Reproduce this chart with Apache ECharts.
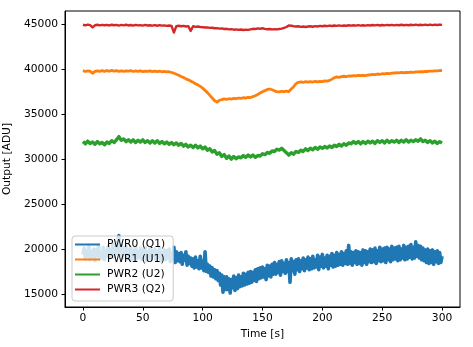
<!DOCTYPE html>
<html>
<head>
<meta charset="utf-8">
<script src="https://cdn.jsdelivr.net/npm/echarts@6/dist/echarts.min.js"></script>
<style>html,body{margin:0;padding:0;background:#fff;}#c{width:473px;height:347px;}</style>
</head>
<body>
<div id="c"></div>
<script>
// ---- data ----
const seriesNames = ['PWR0 (Q1)', 'PWR1 (U1)', 'PWR2 (U2)', 'PWR3 (Q2)'];
const xTicks = [0, 50, 100, 150, 200, 250, 300];
const yTicks = [15000, 20000, 25000, 30000, 35000, 40000, 45000];

// PWR0 sampled every 1 s from t = 0 to 300
const pwr0Start = 0, pwr0Step = 1;
const pwr0 = [
19400,20100,18900,19800,19200,20300,18800,19700,19100,20000,
18700,19900,19300,20400,18900,19600,19000,20200,18800,19800,
19200,20300,19000,19900,19400,20500,19100,20200,19500,20600,
21500,19300,20400,19000,20100,19400,20300,18900,19900,19200,
20200,18800,19800,19300,20300,18900,19700,19100,20100,18800,
19900,19200,20200,18700,19600,19000,20100,18900,19800,19300,
20000,18800,19700,19100,20100,18700,19600,19000,19900,18800,
19800,19000,20000,18600,19500,18900,20200,18500,19700,18700,
19500,18600,19600,18300,19300,18800,19700,18200,19200,18400,
19000,18100,18900,17900,19100,18000,18700,17800,19200,17900,
18600,17600,19700,17500,18300,17400,18100,17000,17900,16900,
17700,16700,17600,16500,17300,16000,17100,15200,16900,15500,
16900,15500,16700,15100,16600,15700,17000,15400,16800,15600,
17100,15800,16900,15900,17300,16000,17200,16100,17400,16200,
17500,16300,17400,16500,17700,16400,17800,16700,17900,16800,
18000,16900,17800,16600,18200,17000,18100,16900,18300,17200,
18500,17200,18300,17400,18600,17100,18700,17500,18400,17300,
18800,17500,18500,16300,18900,17600,18600,17200,18800,17700,
18900,17500,18700,17800,19000,17600,18800,17900,19100,17700,
18900,17800,19200,17900,18800,18000,19300,17700,19100,18100,
19400,17900,19000,18100,19300,17800,19200,18200,19500,18000,
19300,18100,19600,18200,19400,18300,19700,18200,19500,18400,
19800,18300,20400,18400,19700,18200,19600,18500,19800,18300,
19700,18400,19600,18200,19900,18500,19800,18300,19700,18600,
20000,18500,19900,18600,20100,18400,19800,18700,20200,18600,
20000,18700,20100,18500,20200,18800,20000,18600,20300,18800,
20100,18900,20200,18700,20300,18800,20000,19000,20400,18800,
20200,18900,20300,19100,20500,18900,20200,19000,20800,19200,
20400,19000,20300,18800,20100,18700,19900,18500,20000,18400,
19800,18500,19900,18300,19700,18600,19800,18400,19600,18500,
19200
];

// PWR1, PWR2, PWR3 sampled every 2 s from t = 0 to 300
const slowStart = 0, slowStep = 2;
const pwr1 = [
39850,39750,39820,39780,39550,39760,39830,39770,39850,39760,
39840,39780,39870,39790,39850,39770,39830,39760,39820,39780,
39840,39750,39810,39770,39830,39740,39800,39760,39820,39730,
39790,39740,39800,39720,39760,39700,39720,39640,39560,39450,
39340,39200,39080,38930,38820,38680,38560,38380,38260,38100,
37900,37650,37400,37100,36800,36500,36350,36550,36620,36700,
36650,36720,36680,36760,36720,36800,36750,36830,36800,36880,
36850,36950,37050,37200,37350,37500,37620,37750,37800,37720,
37600,37520,37480,37550,37500,37560,37520,37800,38050,38400,
38550,38600,38530,38620,38560,38630,38580,38650,38590,38660,
38620,38700,38680,38760,38900,39050,39150,39100,39180,39220,
39180,39250,39230,39290,39260,39310,39280,39330,39300,39360,
39380,39440,39410,39470,39440,39500,39480,39540,39510,39570,
39580,39620,39600,39640,39610,39660,39640,39690,39660,39710,
39700,39740,39720,39770,39750,39800,39780,39830,39810,39860,
39840
];
const pwr2 = [
31950,31700,32000,31750,31900,31650,31950,31700,31850,31600,
31900,31750,32050,31850,32150,32500,32100,32250,31950,32150,
31900,32150,31850,32100,31900,32150,31850,32050,31800,32050,
31800,32050,31750,31950,31700,31900,31650,31850,31600,31800,
31550,31750,31450,31650,31350,31550,31300,31550,31250,31450,
31150,31350,31000,31150,30800,30950,30550,30700,30300,30500,
30100,30350,30000,30300,30050,30250,30150,30400,30200,30450,
30250,30450,30200,30400,30350,30600,30500,30750,30650,30900,
30850,31100,31000,31200,30950,30700,30450,30700,30550,30850,
30750,31000,30850,31150,30950,31200,31050,31300,31100,31350,
31200,31400,31250,31450,31300,31550,31400,31650,31450,31700,
31550,31800,31700,31950,31750,31950,31700,31950,31750,32000,
31800,32000,31750,32050,31850,32050,31800,32100,31850,32050,
31900,32100,31850,32100,31900,32150,31900,32100,31950,32150,
32000,32250,31950,32100,31850,32050,31800,32000,31750,31950,
31800
];
const pwr3 = [
44950,44880,44960,44900,44650,44890,44950,44880,44940,44900,
44930,44870,44950,44890,44940,44860,44930,44880,44950,44870,
44920,44860,44940,44880,44910,44850,44930,44870,44900,44850,
44910,44840,44900,44850,44880,44820,44870,44820,44080,44800,
44840,44780,44820,44760,44800,44250,44780,44720,44760,44700,
44680,44640,44660,44600,44620,44560,44580,44520,44540,44480,
44500,44440,44460,44400,44430,44380,44420,44370,44410,44380,
44440,44500,44470,44540,44500,44560,44490,44450,44480,44430,
44470,44430,44480,44520,44600,44700,44880,44840,44790,44750,
44780,44720,44760,44700,44750,44780,44730,44800,44760,44820,
44780,44840,44800,44860,44810,44870,44820,44880,44830,44870,
44840,44890,44850,44900,44860,44910,44860,44900,44850,44910,
44870,44920,44880,44930,44870,44920,44880,44940,44890,44930,
44880,44940,44890,44950,44900,44940,44890,44950,44910,44960,
44900,44950,44910,44960,44900,44970,44910,44960,44920,44970,
44930
];
const colors = ['#1f77b4', '#ff7f0e', '#2ca02c', '#d62728'];
const widths = [3.6, 2.8, 3.4, 2.4];

// ---- build ----
function pairs(vals, start, step) {
  return vals.map((v, i) => [start + i * step, v]);
}
const seriesData = [
  pairs(pwr0, pwr0Start, pwr0Step),
  pairs(pwr1, slowStart, slowStep),
  pairs(pwr2, slowStart, slowStep),
  pairs(pwr3, slowStart, slowStep)
];
const FONT = 'DejaVu Sans';
const FS = 10.7;
const chart = echarts.init(document.getElementById('c'), null, { renderer: 'canvas' });
chart.setOption({
  animation: false,
  backgroundColor: '#fff',
  grid: { left: 65, right: 13, top: 11, bottom: 40, show: true, borderColor: '#000', borderWidth: 1,
          containLabel: false, outerBoundsMode: 'none' },
  xAxis: {
    type: 'value', min: -15, max: 315,
    name: 'Time [s]', nameLocation: 'middle', nameGap: 22,
    nameTextStyle: { fontFamily: FONT, fontSize: FS, color: '#000' },
    axisLine: { show: true, onZero: false, lineStyle: { color: '#000', width: 1 } },
    splitLine: { show: false },
    axisTick: { show: true, length: 3.5, inside: false, customValues: xTicks, lineStyle: { color: '#000', width: 1 } },
    axisLabel: { customValues: xTicks, fontFamily: FONT, fontSize: FS, color: '#000', margin: 6,
                 formatter: v => String(v) }
  },
  yAxis: {
    type: 'value', min: 13550, max: 46480,
    name: 'Output [ADU]', nameLocation: 'middle', nameGap: 45, nameRotate: 90,
    nameTextStyle: { fontFamily: FONT, fontSize: FS, color: '#000' },
    axisLine: { show: true, onZero: false, lineStyle: { color: '#000', width: 1 } },
    splitLine: { show: false },
    axisTick: { show: true, length: 3.5, inside: false, customValues: yTicks, lineStyle: { color: '#000', width: 1 } },
    axisLabel: { customValues: yTicks, fontFamily: FONT, fontSize: FS, color: '#000', margin: 7,
                 formatter: v => String(v) }
  },
  legend: {
    orient: 'vertical', left: 72, top: 236,
    padding: [1, 8, 4, 3],
    itemGap: 0, itemWidth: 25, itemHeight: 2,
    icon: 'rect',
    backgroundColor: 'rgba(255,255,255,0.8)',
    borderColor: '#cccccc', borderWidth: 1, borderRadius: 3,
    textStyle: { fontFamily: FONT, fontSize: FS, color: '#000', lineHeight: 15, padding: [0, 0, 0, 2] },
    data: seriesNames
  },
  series: seriesNames.map((n, i) => ({
    name: n, type: 'line', data: seriesData[i],
    showSymbol: false, symbol: 'none', sampling: null,
    color: colors[i],
    lineStyle: { width: widths[i], color: colors[i], join: 'round' },
    emphasis: { disabled: true }
  }))
});
</script>
</body>
</html>
